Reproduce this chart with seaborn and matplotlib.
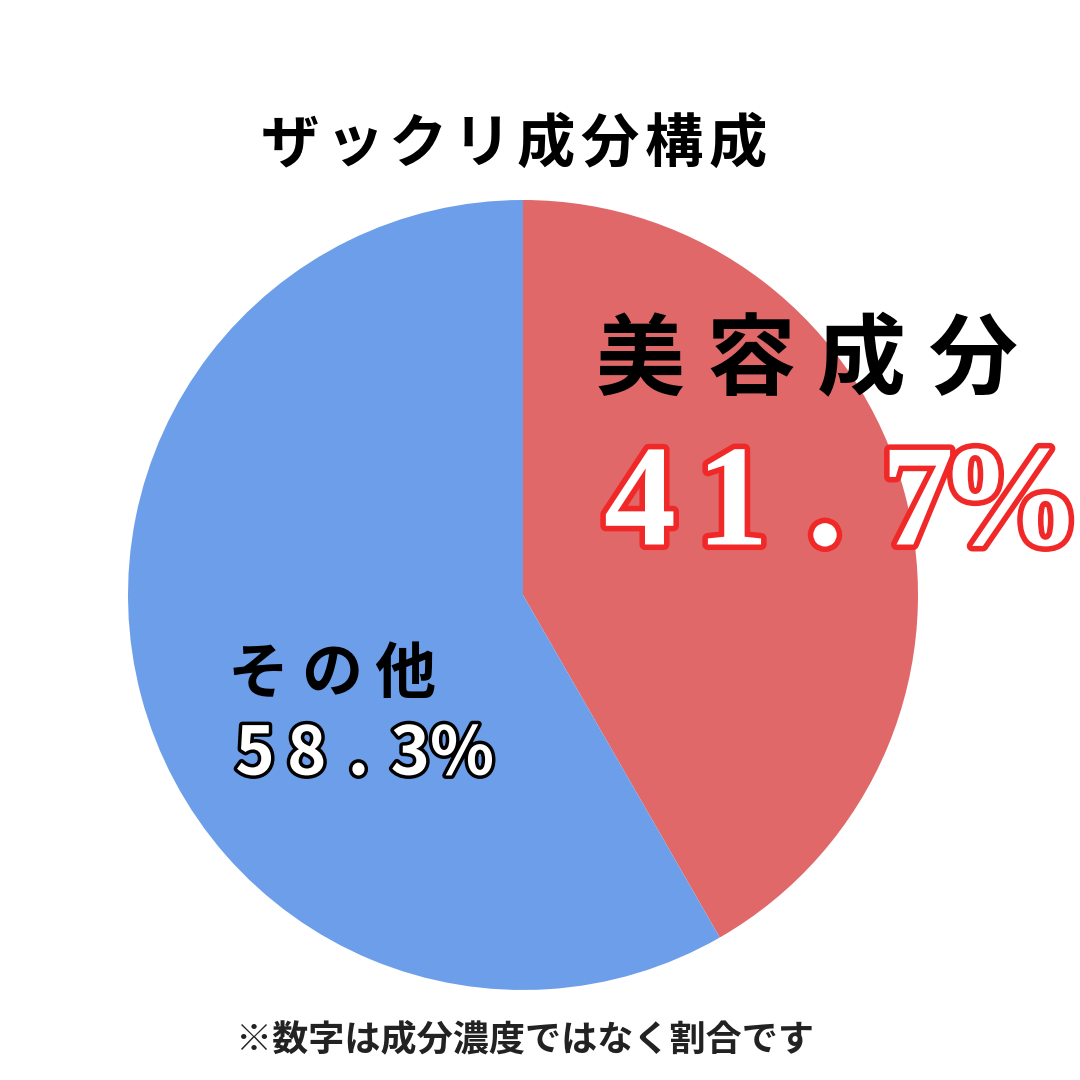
import matplotlib
matplotlib.use("Agg")
import matplotlib.pyplot as plt
import matplotlib.patheffects as pe
import seaborn as sns

labels = ["美容成分", "その他"]
values = [41.7, 58.3]
colors = ["#E06868", "#6D9EEA"]

sns.set_theme(style="white")
plt.rcParams['font.family'] = ['Noto Sans CJK JP', 'DejaVu Sans']

fig = plt.figure(figsize=(10.8, 10.8), dpi=100)
fig.patch.set_facecolor("white")

# pie: center ~ (523, 595) px, radius ~395 px
ax = fig.add_axes([128 / 1080, 90 / 1080, 790 / 1080, 790 / 1080])
ax.pie(values, colors=colors, startangle=90, counterclock=False, radius=1,
       wedgeprops=dict(linewidth=0))
ax.set_xlim(-1, 1)
ax.set_ylim(-1, 1)
ax.set_aspect("equal")
ax.axis("off")


def px(x, y):
    return x / 1080, 1 - y / 1080


def spaced(text, x0, x1, y, **kw):
    # place characters with even spacing between first and last char centres
    n = len(text)
    effects = kw.pop("effects", None)
    for i, ch in enumerate(text):
        x = x0 + (x1 - x0) * i / max(n - 1, 1)
        t = fig.text(*px(x, y), ch, ha="center", va="center", **kw)
        if effects:
            t.set_path_effects(effects)


spaced("ザックリ成分構成", 290, 738, 145, fontsize=42, fontweight="bold", color="black")

spaced(labels[0], 640, 972, 362, fontsize=64, fontweight="bold", color="black")
spaced(f"{values[0]}%", 640, 1010, 510, fontsize=104, fontweight="bold", color="white",
       family=["Liberation Serif", "DejaVu Serif"],
       effects=[pe.withStroke(linewidth=8, foreground="#F02828")])

spaced(labels[1], 258, 405, 675, fontsize=44, fontweight="bold", color="black")
spaced(f"{values[1]}%", 255, 462, 755, fontsize=48, fontweight="bold", color="white",
       effects=[pe.withStroke(linewidth=5, foreground="black")])

fig.text(*px(525, 1040), "※数字は成分濃度ではなく割合です", ha="center", va="center",
         fontsize=26, fontweight="bold", color="#222222")

fig.savefig("out.png", dpi=100, facecolor="white")
